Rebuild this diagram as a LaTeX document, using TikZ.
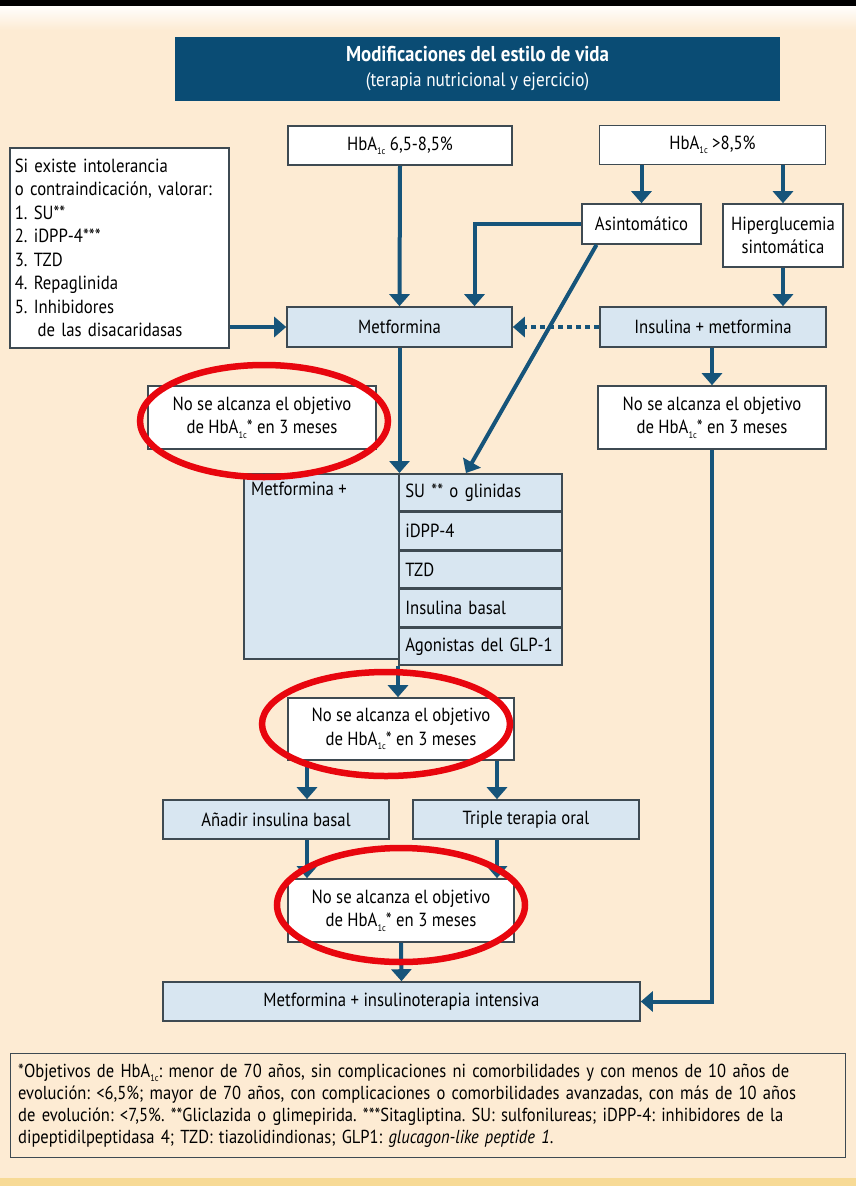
\documentclass[tikz,border=0pt]{standalone}
\usepackage{fontspec}
\setmainfont{PT Sans}[FakeStretch=0.88]
\usetikzlibrary{arrows.meta,positioning,calc}
\definecolor{fdedge}{RGB}{62,74,82}
\definecolor{fdnavy}{RGB}{10,76,116}
\definecolor{fdblue}{RGB}{216,230,241}
\definecolor{fdpeach}{RGB}{253,235,211}
\definecolor{fdarrow}{RGB}{22,84,122}
\definecolor{fdred}{RGB}{232,6,14}
\definecolor{fdband}{RGB}{247,218,150}
\frenchspacing
\newcommand{\hba}{HbA\raisebox{-0.45ex}{\fontsize{9.5}{9.5}\selectfont 1c}}
\newcommand{\fdfont}{\fontsize{19}{23.5}\selectfont}
\tikzset{
  fdbox/.style={
    draw=fdedge, line width=1.6pt, fill=white,
    align=center, inner sep=2pt, font=\fdfont
  },
  wbox/.style={fdbox},
  lbox/.style={fdbox, fill=fdblue},
  cell/.style={lbox, text width=150pt, inner xsep=6.5pt, align=left, minimum height=37pt},
  head/.style={fill=fdnavy, text=white, inner sep=2pt, font=\fontsize{19}{25}\selectfont},
  note/.style={draw=fdedge, line width=1.4pt, fill=fdpeach, align=left,
    font=\fontsize{18.8}{22}\selectfont, inner xsep=7.5pt},
  arr/.style={-{Triangle[length=12pt,width=20pt]}, draw=fdarrow, line width=4pt},
  darr/.style={arr, dash pattern=on 5pt off 4pt},
  ring/.style={draw=fdred, line width=6.5pt}
}

\begin{document}
\begin{tikzpicture}[x=1pt, y=-1pt]
  \useasboundingbox (0,0) rectangle (856,1186);
  \fill[fdpeach] (0,0) rectangle (856,1186);
  \shade[top color=white, bottom color=fdpeach] (0,5) rectangle (856,30);
  \fill[black] (0,0) rectangle (856,6);
  \fill[fdband] (0,1178) rectangle (856,1186);

  \node[head, minimum width=605pt, minimum height=64pt] (life) at (477.5,69)
    {\begin{tabular}{@{}c@{}}
      \fontsize{21.5}{25}\selectfont\bfseries Modificaciones del estilo de vida\\
      \fontsize{19.5}{25}\selectfont (terapia nutricional y ejercicio)
     \end{tabular}};

  \node[wbox, minimum width=224pt, minimum height=39pt] (hbalo) at (400,145.5) {\hba{} 6,5-8,5\%};
  \node[wbox, minimum width=226pt, minimum height=39pt] (hbahi) at (712.5,145) {\hba{} >8,5\%};
  \node[wbox, anchor=north west, minimum width=219pt, minimum height=200pt,
    text width=209pt, inner xsep=5pt, align=left] (intol) at (9,147)
    {Si existe intolerancia\\o contraindicación, valorar:\\1. SU**\\2. iDPP-4***\\3. TZD\\
     4. Repaglinida\\5. Inhibidores\\\hspace*{1.2em}de las disacaridasas};
  \node[wbox, minimum width=119pt, minimum height=40pt] (asint) at (641.5,224) {Asintomático};
  \node[wbox, minimum width=120pt, minimum height=63pt] (hiper) at (783,235.5) {Hiperglucemia\\sintomática};
  \node[lbox, minimum width=225pt, minimum height=40pt] (metf) at (399.5,327) {Metformina};
  \node[lbox, minimum width=226pt, minimum height=40pt] (insmet) at (713,327) {Insulina + metformina};
  \node[wbox, minimum width=228pt, minimum height=63pt] (nsl) at (262,417.5) {No se alcanza el objetivo\\de \hba* en 3 meses};
  \node[wbox, minimum width=228pt, minimum height=63pt] (nsr) at (712,417.5) {No se alcanza el objetivo\\de \hba* en 3 meses};

  % metformina + second drug
  \node[lbox, anchor=north west, minimum width=155pt, minimum height=185pt,
    label={[font=\fdfont, anchor=north west, inner xsep=8pt, inner ysep=9pt]north west:Metformina +}] (metplus) at (243,473) {};
  \node[cell, anchor=north west] (su) at (398,473) {SU ** o glinidas};
  \node[cell, below=0pt of su] (idpp) {iDPP-4};
  \node[cell, below=0pt of idpp] (tzd) {TZD};
  \node[cell, below=0pt of tzd] (basal) {Insulina basal};
  \node[cell, below=0pt of basal] (glp) {Agonistas del GLP-1};

  \node[wbox, minimum width=226pt, minimum height=62pt] (nsm) at (401,729) {No se alcanza el objetivo\\de \hba* en 3 meses};
  \node[lbox, minimum width=226pt, minimum height=39pt] (addins) at (276,819.5) {Añadir insulina basal};
  \node[lbox, minimum width=226pt, minimum height=39pt] (triple) at (526,819.5) {Triple terapia oral};
  \node[wbox, minimum width=226pt, minimum height=63pt] (nsb) at (401,910.5) {No se alcanza el objetivo\\de \hba* en 3 meses};
  \node[lbox, minimum width=477pt, minimum height=39pt] (final) at (401.5,1001.5) {Metformina + insulinoterapia intensiva};

  \node[note, anchor=north west, minimum width=835pt, minimum height=104pt, text width=820pt] (foot) at (10,1053)
    {*Objetivos de \hba: menor de 70 años, sin complicaciones ni comorbilidades y con menos de 10 años de\\
     evolución: <6,5\%; mayor de 70 años, con complicaciones o comorbilidades avanzadas, con más de 10 años\\
     de evolución: <7,5\%. **Gliclazida o glimepirida. ***Sitagliptina. SU: sulfonilureas; iDPP-4: inhibidores de la\\
     dipeptidilpeptidasa 4; TZD: tiazolidindionas; GLP1: \textit{glucagon-like peptide 1}.};

  % connectors
  \draw[arr] (hbalo.south) -- (metf.north);
  \draw[arr] (hbahi.south -| asint.north) -- (asint.north);
  \draw[arr] (hbahi.south -| hiper.north) -- (hiper.north);
  \draw[arr] (hiper.south) -- (hiper.south |- insmet.north);
  \draw[arr] (asint.west) -| ([xshift=75pt]metf.north);
  \draw[arr] (intol.east |- metf.west) -- (metf.west);
  \draw[darr] (insmet.west) -- (metf.east);
  \draw[arr] ([xshift=-45pt]asint.south) -- ([xshift=68pt]su.north west);
  \draw[arr] (metf.south) -- (metf.south |- su.north);
  \draw[arr] (insmet.south -| nsr.north) -- (nsr.north);
  \draw[arr] (nsr.south) |- (final.east);
  \draw[arr] (glp.south west) -- (nsm.north -| glp.south west);
  \draw[arr] ([xshift=-94pt]nsm.south) -- ([xshift=-94pt]nsm.south |- addins.north);
  \draw[arr] ([xshift=96pt]nsm.south) -- ([xshift=96pt]nsm.south |- triple.north);
  \draw[arr] ([xshift=31pt]addins.south) -- ([xshift=31pt]addins.south |- nsb.north);
  \draw[arr] ([xshift=-29pt]triple.south) -- ([xshift=-29pt]triple.south |- nsb.north);
  \draw[arr] (nsb.south) -- (final.north);

  % red marks
  \draw[ring] (264,421) ellipse [x radius=124, y radius=56];
  \draw[ring] (386,724) ellipse [x radius=124, y radius=52];
  \draw[ring] (401,905) ellipse [x radius=124, y radius=57];
\end{tikzpicture}
\end{document}
